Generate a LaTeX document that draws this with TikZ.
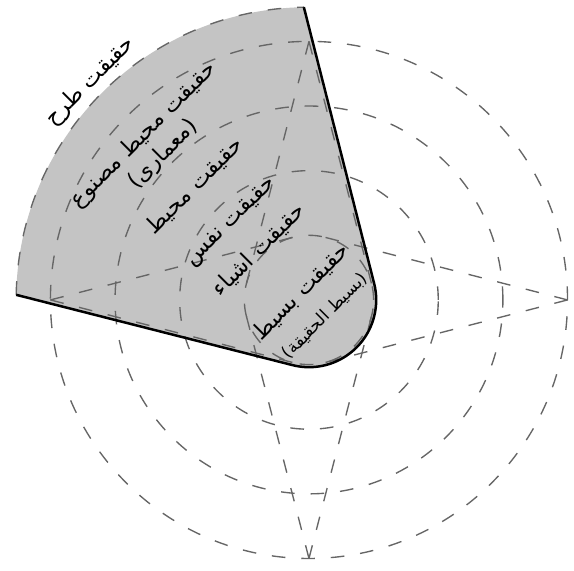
\documentclass[tikz,border=0pt]{standalone}
\usepackage{fontspec}
\usepackage{tikz}
\usetikzlibrary{positioning}
\newfontfamily\arabicfont[Script=Arabic]{DejaVu Sans}
\TeXXeTstate=1

\begin{document}
\begin{tikzpicture}[lbl/.style={font=\arabicfont\fontsize{9.8}{12}\selectfont, rotate=45, align=center, inner sep=1pt},
    guide/.style={black!60, line width=0.6pt, dash pattern=on 6pt off 7pt}]
    \useasboundingbox (-4.78,-4.18) rectangle (4.10,4.64);

    % Realm of design (gray cone)
    \coordinate (G_T) at (91:4.53);
    \coordinate (G_L) at (179:4.53);
    \coordinate (G_R) at (14.27:1.04);
    \coordinate (G_B) at (-104.27:1.04);
    \fill[black!23] (G_L) arc[start angle=179, end angle=91, radius=4.53] -- (G_R)
        arc[start angle=14.27, end angle=-104.27, radius=1.04] -- cycle;

    % Rings
    \foreach \r in {1,...,4}
        \draw[guide] (0,0) circle (\r);
    \draw[guide] (G_L) arc[start angle=179, end angle=91, radius=4.53];

    % Cones from the outer ring
    \foreach \a in {0,90,180,270} {
        \coordinate (P_\a) at (\a:4);
        \draw[guide] (P_\a) -- (\a+75.52:1);
        \draw[guide] (P_\a) -- (\a-75.52:1);
    }

    % Outline
    \draw[line width=1.1pt] (G_L) -- (G_B) arc[start angle=-104.27, end angle=14.27, radius=1.04] -- (G_T);

    % Labels
    \node[lbl] (L_TR) at (135:4.78) {\beginR حقیقت طرح\endR};
    \node[lbl] (L_MM) at (135:3.40) {\beginR حقیقت محیط مصنوع\endR\\\beginR(معماری)\endR};
    \node[lbl] (L_MH) at (135:2.50) {\beginR حقیقت محیط\endR};
    \node[lbl] (L_NF) at (135:1.69) {\beginR حقیقت نفس\endR};
    \node[lbl] (L_AS) at (135:1.10) {\beginR حقیقت اشیاء\endR};
    \node[lbl] (L_BS) at (135:0.18) {\beginR حقیقت بسیط\endR};
    \node[lbl, font=\arabicfont\fontsize{7.5}{9}\selectfont] (L_BH) at (315:0.35) {\beginR(بسیط الحقیقة)\endR};
\end{tikzpicture}
\end{document}
